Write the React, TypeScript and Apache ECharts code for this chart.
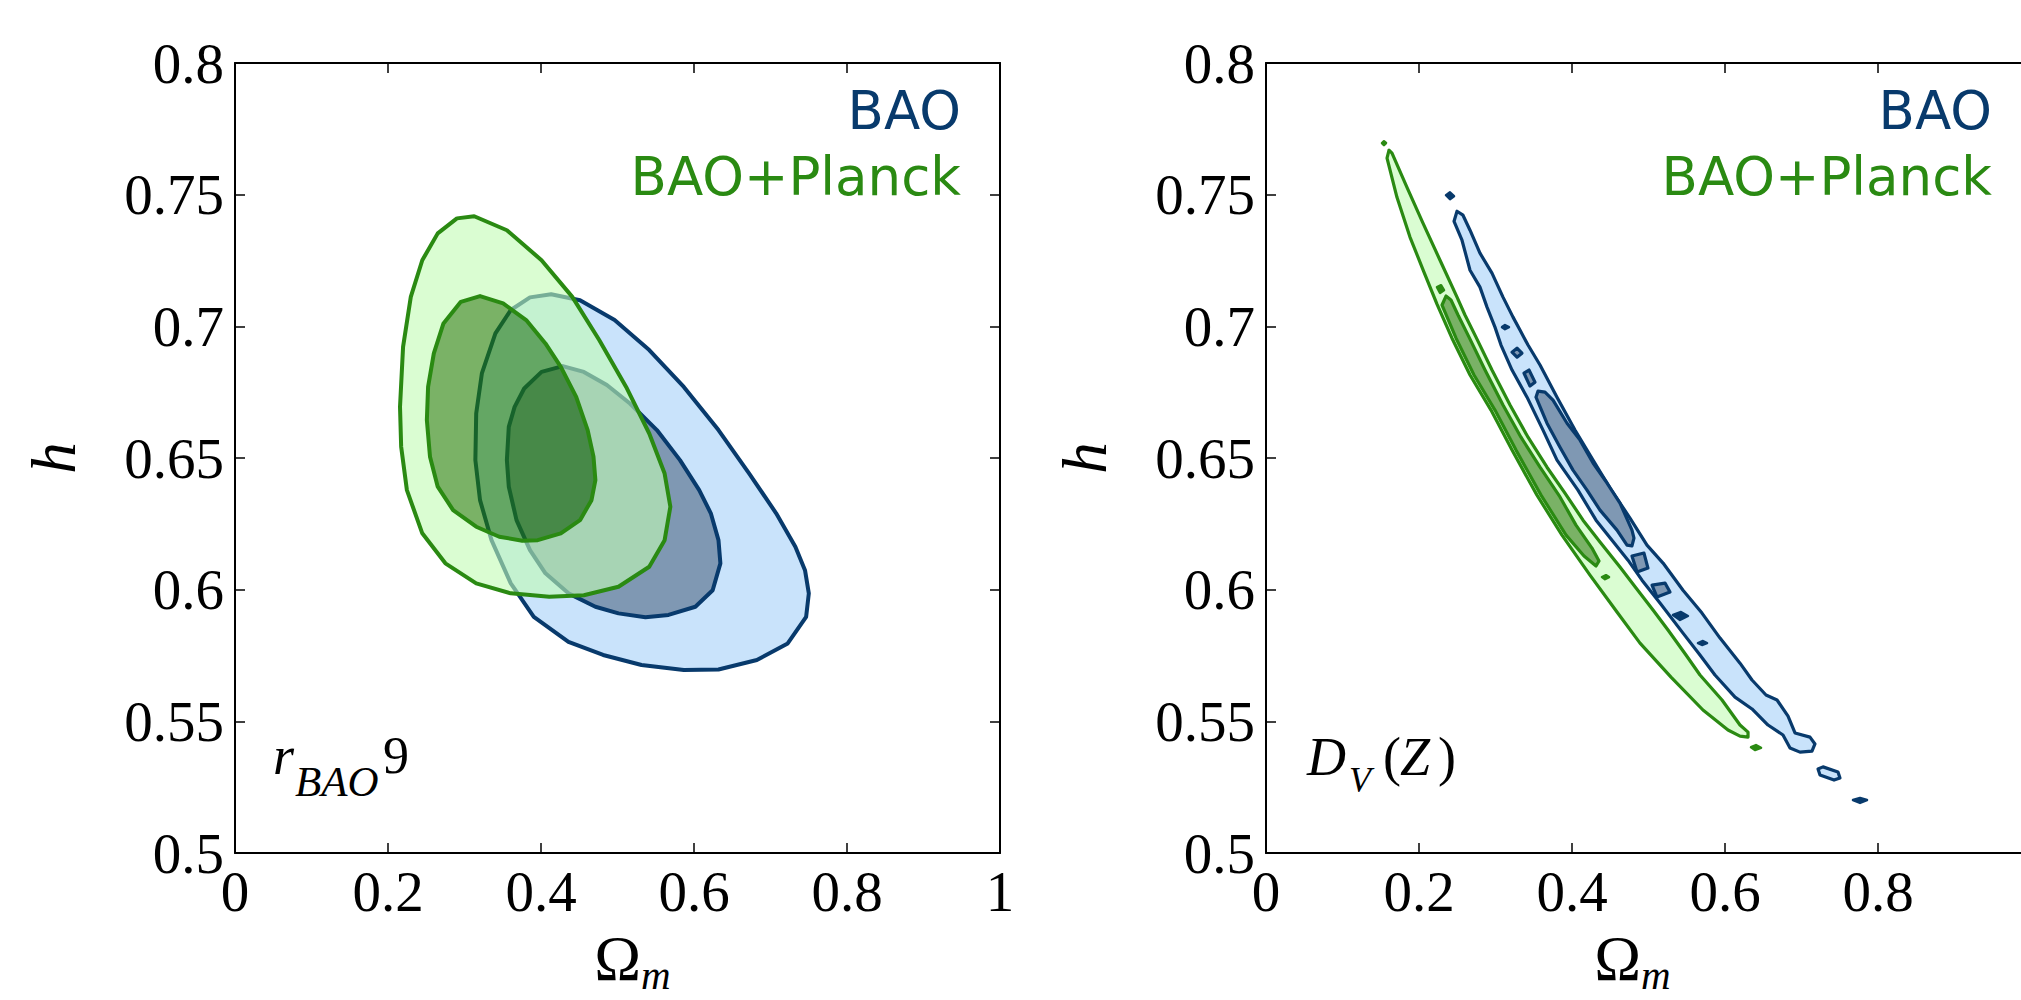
import React, { useEffect, useRef } from 'react';
import * as echarts from 'echarts';

type Pt = [number, number];

// ---------- axes ----------
const xTickValues = [0, 0.2, 0.4, 0.6, 0.8, 1];
const xTickLabels = ['0', '0.2', '0.4', '0.6', '0.8', '1'];
// the right panel is cropped at the figure edge, so its last label is not visible
const xTickLabelsRight = ['0', '0.2', '0.4', '0.6', '0.8', ''];
const yTickValues = [0.5, 0.55, 0.6, 0.65, 0.7, 0.75, 0.8];
const yTickLabels = ['0.5', '0.55', '0.6', '0.65', '0.7', '0.75', '0.8'];
const legendLabels = ['BAO', 'BAO+Planck'];

// ---------- left panel: r_BAO 9 ----------
const leftBaoOuter: Pt[] = [
  [0.4133, 0.7122], [0.4510, 0.7099], [0.4962, 0.7024], [0.5415, 0.6910], [0.5867, 0.6770],
  [0.6320, 0.6606], [0.6722, 0.6441], [0.7074, 0.6290], [0.7325, 0.6163], [0.7451, 0.6074],
  [0.7501, 0.5986], [0.7466, 0.5897], [0.7225, 0.5796], [0.6822, 0.5733], [0.6320, 0.5697],
  [0.5867, 0.5695], [0.5314, 0.5714], [0.4812, 0.5752], [0.4359, 0.5802], [0.3906, 0.5897],
  [0.3605, 0.6024], [0.3353, 0.6188], [0.3203, 0.6340], [0.3142, 0.6492], [0.3153, 0.6669],
  [0.3227, 0.6821], [0.3404, 0.6973], [0.3605, 0.7062], [0.3856, 0.7110],
];
const leftBaoInner: Pt[] = [
  [0.4284, 0.6849], [0.4560, 0.6827], [0.4861, 0.6777], [0.5163, 0.6707], [0.5515, 0.6606],
  [0.5817, 0.6492], [0.6068, 0.6378], [0.6220, 0.6290], [0.6320, 0.6188], [0.6345, 0.6100],
  [0.6244, 0.5998], [0.6018, 0.5935], [0.5667, 0.5904], [0.5365, 0.5895], [0.5013, 0.5910],
  [0.4711, 0.5935], [0.4359, 0.5986], [0.4058, 0.6062], [0.3856, 0.6150], [0.3680, 0.6264],
  [0.3579, 0.6391], [0.3554, 0.6492], [0.3579, 0.6618], [0.3655, 0.6694], [0.3780, 0.6764],
  [0.4007, 0.6827],
];
const leftPlanckOuter: Pt[] = [
  [0.3127, 0.7418], [0.3554, 0.7365], [0.4007, 0.7251], [0.4409, 0.7112], [0.4761, 0.6948],
  [0.5113, 0.6770], [0.5415, 0.6593], [0.5616, 0.6441], [0.5691, 0.6315], [0.5616, 0.6188],
  [0.5415, 0.6087], [0.5013, 0.6011], [0.4560, 0.5979], [0.4107, 0.5973], [0.3605, 0.5986],
  [0.3153, 0.6024], [0.2750, 0.6100], [0.2448, 0.6214], [0.2247, 0.6378], [0.2172, 0.6543],
  [0.2157, 0.6694], [0.2197, 0.6922], [0.2298, 0.7112], [0.2448, 0.7251], [0.2650, 0.7353],
  [0.2901, 0.7410],
];
const leftPlanckInner: Pt[] = [
  [0.3203, 0.7115], [0.3505, 0.7087], [0.3806, 0.7024], [0.4058, 0.6935], [0.4259, 0.6846],
  [0.4460, 0.6732], [0.4610, 0.6606], [0.4686, 0.6505], [0.4711, 0.6416], [0.4660, 0.6340],
  [0.4510, 0.6264], [0.4259, 0.6214], [0.3957, 0.6188], [0.3756, 0.6186], [0.3454, 0.6201],
  [0.3153, 0.6239], [0.2851, 0.6302], [0.2650, 0.6391], [0.2549, 0.6505], [0.2508, 0.6644],
  [0.2524, 0.6770], [0.2599, 0.6897], [0.2725, 0.7011], [0.2952, 0.7093],
];

// ---------- right panel: D_V(Z) ----------
const rightBaoOuter: Pt[] = [
  [0.2497, 0.7437], [0.2458, 0.7399], [0.2562, 0.7327], [0.2667, 0.7213], [0.2797, 0.7149],
  [0.2889, 0.7073], [0.2993, 0.6997], [0.3072, 0.6929], [0.3216, 0.6834], [0.3412, 0.6731],
  [0.3621, 0.6606], [0.3804, 0.6492], [0.4078, 0.6378], [0.4314, 0.6264], [0.4523, 0.6188],
  [0.4732, 0.6112], [0.4915, 0.6036], [0.5150, 0.5949], [0.5451, 0.5835], [0.5673, 0.5752],
  [0.5869, 0.5676], [0.6131, 0.5592], [0.6353, 0.5547], [0.6562, 0.5486], [0.6758, 0.5448],
  [0.6850, 0.5399], [0.6980, 0.5383], [0.7137, 0.5387], [0.7176, 0.5414], [0.7111, 0.5440],
  [0.6915, 0.5456], [0.6824, 0.5520], [0.6680, 0.5581], [0.6536, 0.5600], [0.6353, 0.5657],
  [0.6196, 0.5721], [0.5935, 0.5816], [0.5699, 0.5911], [0.5451, 0.5998], [0.5190, 0.6101],
  [0.4980, 0.6169], [0.4758, 0.6272], [0.4497, 0.6386], [0.4275, 0.6492], [0.4039, 0.6606],
  [0.3804, 0.6731], [0.3582, 0.6853], [0.3425, 0.6929], [0.3320, 0.6986], [0.3229, 0.7035],
  [0.3098, 0.7111], [0.2954, 0.7202], [0.2797, 0.7278], [0.2667, 0.7365], [0.2575, 0.7422],
];
const rightBaoOuterIslands: Pt[][] = [
  [[0.7216, 0.5319], [0.7281, 0.5327], [0.7477, 0.5308], [0.7503, 0.5285], [0.7425, 0.5277], [0.7242, 0.5296]],
];
const rightBaoInner: Pt[] = [
  [0.3556, 0.6754], [0.3529, 0.6731], [0.3673, 0.6632], [0.3843, 0.6541], [0.4013, 0.6454],
  [0.4196, 0.6378], [0.4366, 0.6302], [0.4588, 0.6226], [0.4719, 0.6169], [0.4784, 0.6166],
  [0.4810, 0.6196], [0.4784, 0.6226], [0.4627, 0.6329], [0.4458, 0.6405], [0.4275, 0.6481],
  [0.4105, 0.6568], [0.3935, 0.6632], [0.3752, 0.6720], [0.3647, 0.6750],
];
const rightBaoInnerIslands: Pt[][] = [
  [[0.3216, 0.6902], [0.3281, 0.6917], [0.3346, 0.6898], [0.3281, 0.6883]],
  [[0.3373, 0.6822], [0.3438, 0.6834], [0.3516, 0.6788], [0.3451, 0.6773]],
  [[0.4784, 0.6128], [0.4941, 0.6139], [0.4993, 0.6082], [0.4850, 0.6067]],
  [[0.5046, 0.6017], [0.5216, 0.6025], [0.5281, 0.5991], [0.5111, 0.5972]],
];
const rightBaoDots: Pt[][] = [
  [[0.2353, 0.7498], [0.2405, 0.7509], [0.2458, 0.7494], [0.2405, 0.7483]],
  [[0.3085, 0.6997], [0.3124, 0.7005], [0.3176, 0.6997], [0.3124, 0.6989]],
  [[0.5320, 0.5904], [0.5425, 0.5915], [0.5516, 0.5900], [0.5412, 0.5885]],
  [[0.5647, 0.5797], [0.5712, 0.5805], [0.5765, 0.5797], [0.5699, 0.5790]],
  [[0.7673, 0.5201], [0.7765, 0.5209], [0.7856, 0.5201], [0.7765, 0.5190]],
];
const rightPlanckOuter: Pt[] = [
  [0.1608, 0.7669], [0.1582, 0.7639], [0.1712, 0.7490], [0.1882, 0.7339], [0.2065, 0.7206],
  [0.2235, 0.7084], [0.2431, 0.6955], [0.2667, 0.6815], [0.2941, 0.6682], [0.3216, 0.6530],
  [0.3542, 0.6359], [0.3869, 0.6207], [0.4235, 0.6055], [0.4588, 0.5915], [0.4889, 0.5797],
  [0.5294, 0.5668], [0.5712, 0.5543], [0.6039, 0.5467], [0.6196, 0.5444], [0.6301, 0.5440],
  [0.6301, 0.5459], [0.6196, 0.5486], [0.5961, 0.5581], [0.5673, 0.5676], [0.5490, 0.5752],
  [0.5255, 0.5847], [0.5059, 0.5923], [0.4837, 0.6006], [0.4627, 0.6086], [0.4366, 0.6181],
  [0.4144, 0.6264], [0.3908, 0.6367], [0.3673, 0.6465], [0.3425, 0.6579], [0.3190, 0.6701],
  [0.2954, 0.6834], [0.2745, 0.6959], [0.2601, 0.7043], [0.2497, 0.7111], [0.2275, 0.7251],
  [0.2052, 0.7392], [0.1843, 0.7528], [0.1647, 0.7658],
];
const rightPlanckInner: Pt[] = [
  [0.2353, 0.7115], [0.2301, 0.7081], [0.2484, 0.6955], [0.2719, 0.6815], [0.2993, 0.6682],
  [0.3268, 0.6530], [0.3595, 0.6359], [0.3922, 0.6207], [0.4157, 0.6128], [0.4314, 0.6090],
  [0.4353, 0.6109], [0.4261, 0.6158], [0.4052, 0.6245], [0.3843, 0.6352], [0.3582, 0.6465],
  [0.3333, 0.6579], [0.3098, 0.6701], [0.2863, 0.6834], [0.2654, 0.6959], [0.2510, 0.7043],
  [0.2418, 0.7100],
];
const rightPlanckDots: Pt[][] = [
  [[0.1516, 0.7696], [0.1542, 0.7703], [0.1569, 0.7696], [0.1542, 0.7688]],
  [[0.2235, 0.7149], [0.2288, 0.7156], [0.2327, 0.7137], [0.2275, 0.7127]],
  [[0.4392, 0.6048], [0.4444, 0.6055], [0.4484, 0.6048], [0.4431, 0.6040]],
  [[0.6340, 0.5402], [0.6405, 0.5410], [0.6471, 0.5399], [0.6392, 0.5391]],
];

// ---------- styles ----------
const NAVY = '#083a6c';
const GREEN = '#2a8a12';
const BLUE_OUTER = '#c9e3fb';
const BLUE_INNER = '#7f98b3';
const GREEN_OUTER = 'rgba(194,252,180,0.6)';
const GREEN_INNER = 'rgba(33,127,0,0.6)';

const fmt = (vals: number[], labels: string[]) => (v: number) => {
  const i = vals.findIndex((t) => Math.abs(t - v) < 1e-6);
  return i >= 0 ? labels[i] : '';
};

function polySeries(gi: number, polys: Pt[][], fill: string, stroke: string, lw: number, z: number) {
  return {
    type: 'custom',
    coordinateSystem: 'cartesian2d',
    xAxisIndex: gi * 2,
    yAxisIndex: gi * 2,
    z,
    silent: true,
    clip: false,
    data: polys.map((p) => [p[0][0], p[0][1]]),
    renderItem: (params: any, api: any) => ({
      type: 'polygon',
      shape: { points: polys[params.dataIndex].map((p) => api.coord(p)) },
      style: { fill, stroke, lineWidth: lw, lineJoin: 'round' },
    }),
  };
}

function ring(outer: Pt[], inner: Pt[]): Pt[] {
  return [...outer, outer[0], inner[0], ...inner.slice(1).reverse(), inner[0]];
}

const TICK_FONT = 57;

function xAxis(gi: number, pos: string, show: boolean) {
  return {
    type: 'value', gridIndex: gi, position: pos, min: 0, max: 1, interval: 0.2,
    axisLine: { show: true, onZero: false, lineStyle: { color: '#000', width: 2 } },
    axisTick: { show: true, inside: true, length: 10, lineStyle: { color: '#000', width: 1.5 } },
    axisLabel: {
      show, margin: 10, fontFamily: 'Liberation Serif', fontSize: TICK_FONT, color: '#000',
      showMinLabel: true, showMaxLabel: true, hideOverlap: false,
      formatter: fmt(xTickValues, gi === 0 ? xTickLabels : xTickLabelsRight),
    },
    splitLine: { show: false },
  };
}
function yAxis(gi: number, pos: string, show: boolean) {
  return {
    type: 'value', gridIndex: gi, position: pos, min: 0.5, max: 0.8, interval: 0.05,
    axisLine: { show: true, onZero: false, lineStyle: { color: '#000', width: 2 } },
    axisTick: { show: true, inside: true, length: 10, lineStyle: { color: '#000', width: 1.5 } },
    axisLabel: {
      show, margin: 11, fontFamily: 'Liberation Serif', fontSize: TICK_FONT, color: '#000',
      showMinLabel: true, showMaxLabel: true, hideOverlap: false, formatter: fmt(yTickValues, yTickLabels),
    },
    splitLine: { show: false },
  };
}

function txt(text: string, x: number, y: number, o: any = {}) {
  return {
    type: 'text', x, y, rotation: o.rotation || 0, silent: true,
    style: {
      text, fill: o.fill || '#000', fontFamily: o.family || 'Liberation Serif',
      fontSize: o.size || 54, fontStyle: o.italic ? 'italic' : 'normal',
      align: o.align || 'left', verticalAlign: 'middle',
    },
  };
}

const GRID_W = 765;
const GRID_LEFTS = [235, 1266];
const XLABEL_JOIN = [641, 1641];

function panelTexts(gi: number) {
  const left = GRID_LEFTS[gi];
  const right = left + GRID_W;
  return [
    txt('h', left - 181, 458, { italic: true, size: 63, align: 'center', rotation: Math.PI / 2 }),
    txt('Ω', XLABEL_JOIN[gi], 958.7, { size: 63, align: 'right' }),
    txt('m', XLABEL_JOIN[gi], 975, { size: 41, italic: true }),
    txt(legendLabels[0], right - 39, 110.3, { family: 'DejaVu Sans', fill: NAVY, align: 'right', size: 53 }),
    txt(legendLabels[1], right - 39, 176.3, { family: 'DejaVu Sans', fill: GREEN, align: 'right', size: 53 }),
  ];
}

const option: any = {
  animation: false,
  backgroundColor: '#ffffff',
  grid: GRID_LEFTS.map((l) => ({
    left: l, top: 63, width: GRID_W, height: 790, containLabel: false, outerBoundsMode: 'none',
  })),
  xAxis: [xAxis(0, 'bottom', true), xAxis(0, 'top', false), xAxis(1, 'bottom', true), xAxis(1, 'top', false)],
  yAxis: [yAxis(0, 'left', true), yAxis(0, 'right', false), yAxis(1, 'left', true), yAxis(1, 'right', false)],
  series: [
    // left: BAO
    polySeries(0, [leftBaoOuter], BLUE_OUTER, NAVY, 4, 2),
    polySeries(0, [leftBaoInner], BLUE_INNER, NAVY, 4, 3),
    // left: BAO+Planck
    polySeries(0, [ring(leftPlanckOuter, leftPlanckInner)], GREEN_OUTER, 'none', 0, 4),
    polySeries(0, [leftPlanckInner], GREEN_INNER, 'none', 0, 5),
    polySeries(0, [leftPlanckOuter, leftPlanckInner], 'none', GREEN, 4, 6),
    // right: BAO
    polySeries(1, [rightBaoOuter, ...rightBaoOuterIslands], BLUE_OUTER, NAVY, 3.2, 2),
    polySeries(1, [rightBaoInner, ...rightBaoInnerIslands], BLUE_INNER, NAVY, 3.2, 3),
    polySeries(1, rightBaoDots, NAVY, NAVY, 2.5, 3),
    // right: BAO+Planck
    polySeries(1, [ring(rightPlanckOuter, rightPlanckInner)], GREEN_OUTER, 'none', 0, 4),
    polySeries(1, [rightPlanckInner], GREEN_INNER, 'none', 0, 5),
    polySeries(1, [rightPlanckOuter, rightPlanckInner], 'none', GREEN, 3.2, 6),
    polySeries(1, rightPlanckDots, GREEN, GREEN, 2.5, 6),
  ],
  graphic: [
    ...panelTexts(0),
    ...panelTexts(1),
    // r_BAO 9
    txt('r', 273, 755.5, { italic: true, size: 54 }),
    txt('BAO', 295, 781, { italic: true, size: 43 }),
    txt('9', 383, 755.5, { size: 52 }),
    // D_V(Z)
    txt('D', 1307, 756.8, { italic: true, size: 54 }),
    txt('V', 1349, 780, { italic: true, size: 36 }),
    txt('(', 1383, 756.8, { size: 54 }),
    txt('Z', 1400, 756.8, { italic: true, size: 54 }),
    txt(')', 1438, 756.8, { size: 54 }),
  ],
};

export default function App() {
  const ref = useRef<HTMLDivElement>(null);
  useEffect(() => {
    const chart = echarts.init(ref.current as HTMLDivElement, null, { renderer: 'svg' });
    chart.setOption(option);
    return () => chart.dispose();
  }, []);
  return (
    <div
      ref={ref}
      style={{ position: 'absolute', left: 0, top: 0, width: 2021, height: 1000, background: '#fff' }}
    />
  );
}
